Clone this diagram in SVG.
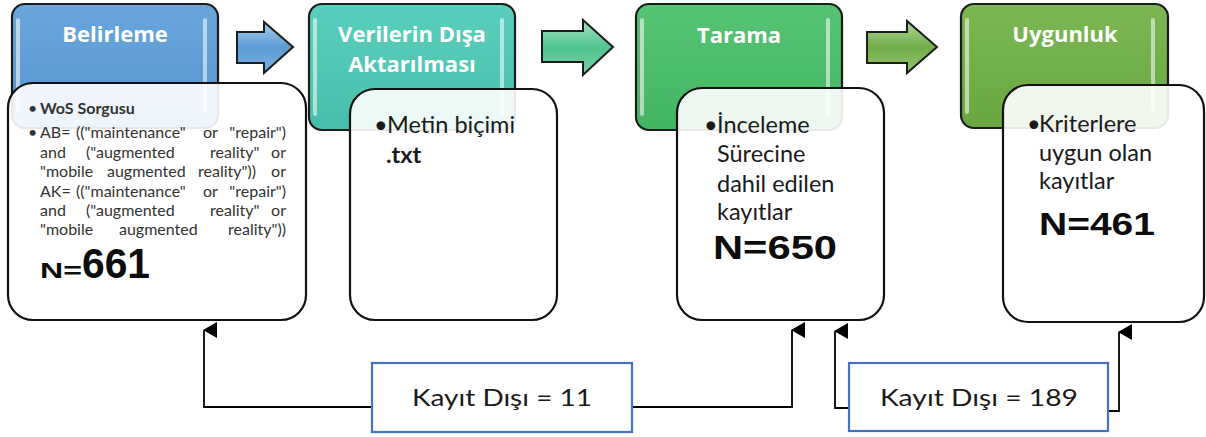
<svg xmlns="http://www.w3.org/2000/svg" width="1206" height="437" viewBox="0 0 1206 437">
<defs>
<style>
.hdr{stroke:#1c1c1c;stroke-width:2.2}
.stripe{fill:#ffffff;opacity:0.55}
.card{fill:#ffffff;fill-opacity:0.9;stroke:#111;stroke-width:2.2}
.title{font-family:"Open Sans","Liberation Sans",sans-serif;font-weight:bold;font-size:22px;fill:#ffffff;text-anchor:middle}
.q{font-family:Lato,"Liberation Sans",sans-serif;font-size:16px;fill:#333333}
.body{font-family:Lato,"Liberation Sans",sans-serif;font-size:23.5px;fill:#1a1a1a}
.big{font-family:"Liberation Sans",Arial,sans-serif;font-weight:bold;fill:#0d0d0d}
.arrowshape{stroke:#1c1c1c;stroke-width:2}
.kbox{fill:#ffffff;stroke:#4472c4;stroke-width:2.2}
.ktext{font-family:Lato,"Liberation Sans",sans-serif;font-size:24px;fill:#1a1a1a}
.conn{fill:none;stroke:#000;stroke-width:1.8}
</style>
<linearGradient id="gBlue" x1="0" y1="0" x2="0" y2="1"><stop offset="0" stop-color="#6aa6dc"/><stop offset="1" stop-color="#5593cf"/></linearGradient>
<linearGradient id="gTeal" x1="0" y1="0" x2="0" y2="1"><stop offset="0" stop-color="#5bcfbd"/><stop offset="1" stop-color="#46bfab"/></linearGradient>
<linearGradient id="gGreen" x1="0" y1="0" x2="0" y2="1"><stop offset="0" stop-color="#55c474"/><stop offset="1" stop-color="#42b562"/></linearGradient>
<linearGradient id="gOlive" x1="0" y1="0" x2="0" y2="1"><stop offset="0" stop-color="#7bb854"/><stop offset="1" stop-color="#69a740"/></linearGradient>
<linearGradient id="aBlue" x1="0" y1="0" x2="0" y2="1"><stop offset="0" stop-color="#a9cdee"/><stop offset="0.5" stop-color="#5b9bd5"/><stop offset="1" stop-color="#7fb2e2"/></linearGradient>
<linearGradient id="aTeal" x1="0" y1="0" x2="0" y2="1"><stop offset="0" stop-color="#a6e3c6"/><stop offset="0.5" stop-color="#4fc48d"/><stop offset="1" stop-color="#7cd3ab"/></linearGradient>
<linearGradient id="aGreen" x1="0" y1="0" x2="0" y2="1"><stop offset="0" stop-color="#b3d79d"/><stop offset="0.5" stop-color="#70ad47"/><stop offset="1" stop-color="#93c474"/></linearGradient>
<marker id="ah" viewBox="0 0 16 14" refX="8" refY="1" markerWidth="16" markerHeight="14" markerUnits="userSpaceOnUse" orient="auto-start-reverse">
<path d="M0,14 L8,0 L16,14 Z" fill="#000"/>
</marker>
</defs>

<g id="arrows-between">
<path class="arrowshape" fill="url(#aBlue)" d="M237,32 H264 V22 L293,47 L264,73 V63 H237 Z"/>
<path class="arrowshape" fill="url(#aTeal)" d="M542,31 H583 V20 L613,47 L583,75 V62 H542 Z"/>
<path class="arrowshape" fill="url(#aGreen)" d="M867,32 H907 V21 L937,47 L907,73 V63 H867 Z"/>
</g>

<g id="node-belirleme">
<rect class="hdr" x="12" y="4" width="206" height="124" rx="13" fill="url(#gBlue)"/>
<rect class="stripe" x="16" y="18" width="4" height="96" rx="2"/>
<rect class="stripe" x="203" y="18" width="4" height="96" rx="2"/>
<text class="title" x="115" y="42">Belirleme</text>
<rect class="card" x="8" y="83" width="298" height="237" rx="25"/>
<text class="q" x="28" y="114">•</text>
<text class="q" x="40" y="114" font-weight="bold" fill="#111">WoS Sorgusu</text>
<text class="q" x="28" y="138">•</text>
<text class="q" y="138"><tspan x="40">AB=</tspan><tspan x="76">(("maintenance"</tspan><tspan x="203">or</tspan></text>
<text class="q" x="286" y="138" text-anchor="end">"repair")</text>
<text class="q" y="158"><tspan x="40">and</tspan><tspan x="86">("augmented</tspan><tspan x="210">reality"</tspan></text>
<text class="q" x="286" y="158" text-anchor="end">or</text>
<text class="q" y="177"><tspan x="40">"mobile</tspan><tspan x="107">augmented</tspan><tspan x="198">reality"))</tspan></text>
<text class="q" x="286" y="177" text-anchor="end">or</text>
<text class="q" y="197"><tspan x="40">AK=</tspan><tspan x="76">(("maintenance"</tspan><tspan x="203">or</tspan></text>
<text class="q" x="286" y="197" text-anchor="end">"repair")</text>
<text class="q" y="216"><tspan x="40">and</tspan><tspan x="86">("augmented</tspan><tspan x="210">reality"</tspan></text>
<text class="q" x="286" y="216" text-anchor="end">or</text>
<text class="q" y="235"><tspan x="40">"mobile</tspan><tspan x="119">augmented</tspan></text>
<text class="q" x="286" y="235" text-anchor="end">reality"))</text>
<text class="big" x="40" y="278" font-size="22" textLength="42" lengthAdjust="spacingAndGlyphs">N=</text>
<text class="big" x="82" y="278" font-size="42" textLength="68" lengthAdjust="spacingAndGlyphs">661</text>
</g>

<g id="node-verilerin">
<rect class="hdr" x="309" y="4" width="206" height="126" rx="13" fill="url(#gTeal)"/>
<rect class="stripe" x="313" y="18" width="4" height="98" rx="2"/>
<rect class="stripe" x="500" y="18" width="4" height="98" rx="2"/>
<text class="title" x="412" y="42">Verilerin Dışa</text>
<text class="title" x="412" y="72">Aktarılması</text>
<rect class="card" x="350" y="89" width="207" height="231" rx="25"/>
<text class="body" x="374" y="133">•</text>
<text class="body" x="387" y="133">Metin biçimi</text>
<text class="body" x="386" y="163" font-weight="bold">.txt</text>
</g>

<g id="node-tarama">
<rect class="hdr" x="636" y="4" width="206" height="126" rx="13" fill="url(#gGreen)"/>
<rect class="stripe" x="640" y="18" width="4" height="98" rx="2"/>
<rect class="stripe" x="826" y="18" width="4" height="98" rx="2"/>
<text class="title" x="739" y="43">Tarama</text>
<rect class="card" x="677" y="88" width="207" height="232" rx="25"/>
<text class="body" x="704" y="133">•</text>
<text class="body" x="717" y="133">İnceleme</text>
<text class="body" x="717" y="162">Sürecine</text>
<text class="body" x="717" y="192">dahil edilen</text>
<text class="body" x="717" y="220">kayıtlar</text>
<text class="big" x="713" y="259" font-size="34" textLength="124" lengthAdjust="spacingAndGlyphs">N=650</text>
</g>

<g id="node-uygunluk">
<rect class="hdr" x="961" y="4" width="207" height="124" rx="13" fill="url(#gOlive)"/>
<rect class="stripe" x="965" y="18" width="4" height="96" rx="2"/>
<rect class="stripe" x="1151" y="18" width="4" height="96" rx="2"/>
<text class="title" x="1065" y="42">Uygunluk</text>
<rect class="card" x="1003" y="85" width="201" height="237" rx="25"/>
<text class="body" x="1027" y="132">•</text>
<text class="body" x="1039" y="132">Kriterlere</text>
<text class="body" x="1039" y="161">uygun olan</text>
<text class="body" x="1039" y="189">kayıtlar</text>
<text class="big" x="1039" y="235" font-size="31" textLength="116" lengthAdjust="spacingAndGlyphs">N=461</text>
</g>

<g id="connectors">
<path class="conn" d="M372,407 H204 V330" marker-end="url(#ah)"/>
<path class="conn" d="M632,407 H792 V330" marker-end="url(#ah)"/>
<path class="conn" d="M849,408 H835 V331" marker-end="url(#ah)"/>
<path class="conn" d="M1108,411 H1119 V332" marker-end="url(#ah)"/>
</g>

<g id="node-kayit-11">
<rect class="kbox" x="372" y="363" width="260" height="69"/>
<text class="ktext" x="412" y="406" textLength="180" lengthAdjust="spacingAndGlyphs">Kayıt Dışı = 11</text>
</g>

<g id="node-kayit-189">
<rect class="kbox" x="849" y="363" width="259" height="68"/>
<text class="ktext" x="880" y="406" textLength="198" lengthAdjust="spacingAndGlyphs">Kayıt Dışı = 189</text>
</g>
</svg>
